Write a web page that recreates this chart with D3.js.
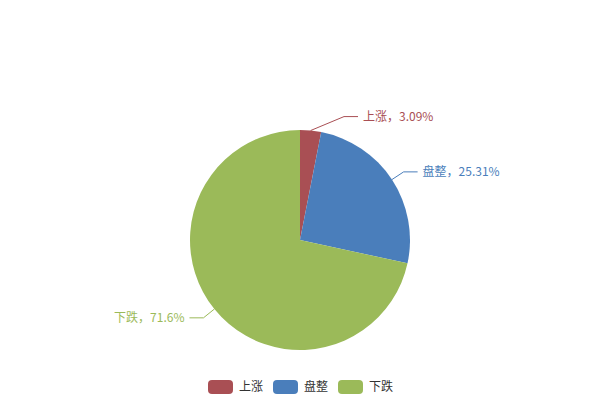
<!DOCTYPE html>
<html><head><meta charset="utf-8">
<script src="https://cdn.jsdelivr.net/npm/d3@7/dist/d3.min.js"></script>
<style>html,body{margin:0;padding:0;background:#fff;}svg{display:block;}</style>
</head><body>
<svg id="c" width="600" height="400"></svg>
<script>
const categories = ["上涨", "盘整", "下跌"];
const values = [3.09, 25.31, 71.6];
const labels = ["3.09%", "25.31%", "71.6%"];
const colors = ["#A94F54", "#4A7EBB", "#9BBA59"];

const svg = d3.select("#c");
const font = "'Noto Sans CJK SC','Noto Sans',sans-serif";
const cx = 300, cy = 240, R = 110;
const data = categories.map((c, i) => ({name: c, value: values[i], label: labels[i], color: colors[i]}));
const pie = d3.pie().sort(null).value(d => d.value).startAngle(0).endAngle(2 * Math.PI);
const arcs = pie(data);
const arc = d3.arc().innerRadius(0).outerRadius(R);
const g = svg.append("g").attr("transform", `translate(${cx},${cy})`);
g.selectAll("path.slice").data(arcs).join("path")
  .attr("class", "slice").attr("d", arc).attr("fill", d => d.data.color);

arcs.forEach(a => {
  const mid = (a.startAngle + a.endAngle) / 2;
  const sx = Math.sin(mid), sy = -Math.cos(mid);
  const p0 = [R * sx, R * sy];
  let p1 = [(R + 14) * sx, (R + 14) * sy];
  const right = sx >= 0;
  if (right) p1[0] = Math.max(p1[0], R * 0.4);
  const p2 = [p1[0] + (right ? 14 : -14), p1[1]];
  g.append("polyline")
    .attr("points", [p0, p1, p2].map(p => p.join(",")).join(" "))
    .attr("fill", "none").attr("stroke", a.data.color).attr("stroke-width", 1);
  g.append("text")
    .attr("x", p2[0] + (right ? 5 : -5)).attr("y", p1[1])
    .attr("dy", "0.35em")
    .attr("text-anchor", right ? "start" : "end")
    .attr("font-family", font).attr("font-size", 12)
    .attr("fill", a.data.color)
    .text(a.data.name + "，" + a.data.label);
});

// legend
const itemW = [65, 65, 50];
const lg = svg.append("g").attr("transform", "translate(208,387)");
let x = 0;
data.forEach((d, i) => {
  const it = lg.append("g").attr("transform", `translate(${x},0)`);
  it.append("rect").attr("x", 0).attr("y", -7).attr("width", 25).attr("height", 14)
    .attr("rx", 4).attr("fill", d.color);
  it.append("text").attr("x", 31).attr("y", 0).attr("dy", "0.35em")
    .attr("font-family", font).attr("font-size", 12).attr("fill", "#333").text(d.name);
  x += itemW[i];
});
</script>
</body></html>
